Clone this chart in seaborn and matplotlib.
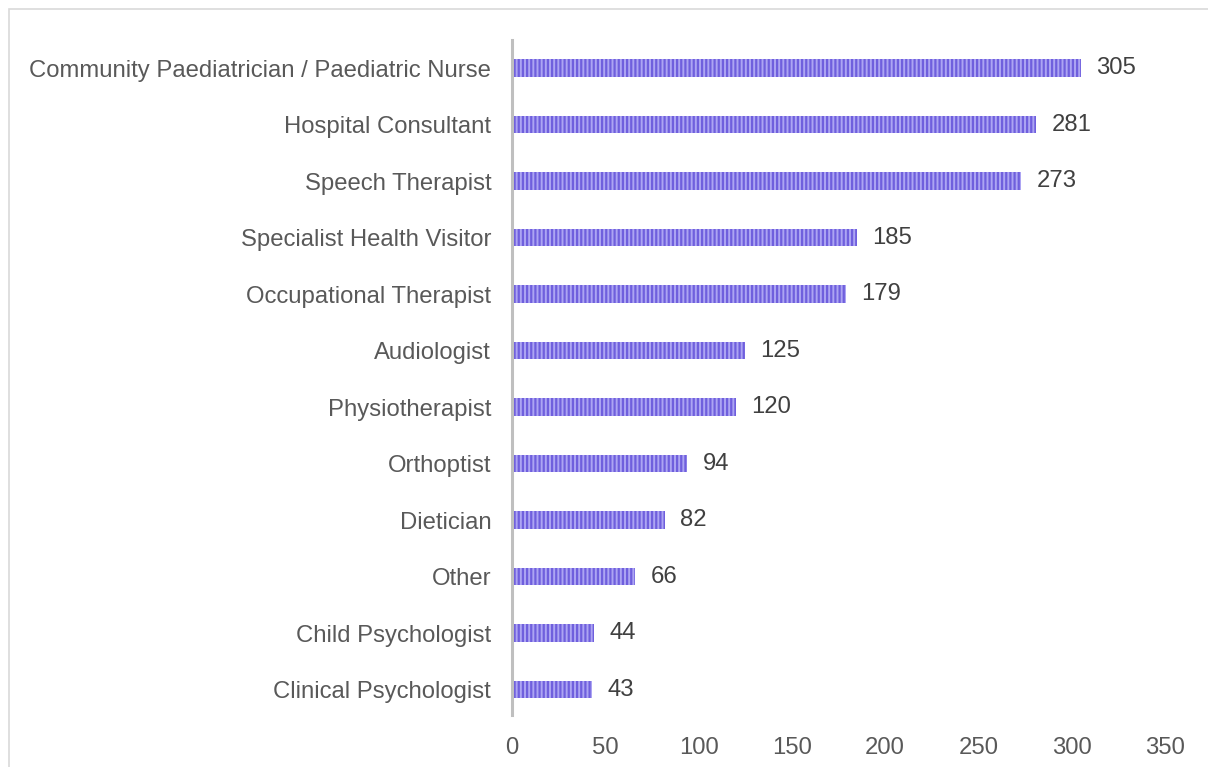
import pandas as pd
import seaborn as sns
import matplotlib.pyplot as plt
from matplotlib.patches import Rectangle

roles = ["Community Paediatrician / Paediatric Nurse", "Hospital Consultant",
         "Speech Therapist", "Specialist Health Visitor", "Occupational Therapist",
         "Audiologist", "Physiotherapist", "Orthoptist", "Dietician", "Other",
         "Child Psychologist", "Clinical Psychologist"]
counts = [305, 281, 273, 185, 179, 125, 120, 94, 82, 66, 44, 43]
x_ticks = [0, 50, 100, 150, 200, 250, 300, 350]

df = pd.DataFrame({"role": roles, "count": counts})

sns.set_style("white")
plt.rcParams["font.family"] = ["Liberation Sans", "DejaVu Sans"]
plt.rcParams["hatch.linewidth"] = 1.6

fig = plt.figure(figsize=(12.08, 7.67), dpi=100)
ax = fig.add_axes([512 / 1208, 1 - 715 / 767, (1165 - 512) / 1208, 675 / 767])

sns.barplot(data=df, y="role", x="count", orient="h", color="#ada5f3",
            width=0.31, saturation=1, ax=ax)
for p in ax.patches:
    p.set_hatch("||||")
    p.set_edgecolor("#6f5fdd")
    p.set_linewidth(0)

ax.bar_label(ax.containers[0], padding=11, fontsize=17.2, color="#404040")

ax.set_xlim(0, 350)
ax.set_ylim(11.45, -0.5)
ax.set_xticks(x_ticks)
ax.set_xlabel("")
ax.set_ylabel("")
ax.tick_params(axis="both", length=0, labelsize=17.2, labelcolor="#595959")
ax.tick_params(axis="y", pad=15)
ax.tick_params(axis="x", pad=16)
for s in ["top", "right", "bottom"]:
    ax.spines[s].set_visible(False)
ax.spines["left"].set_color("#bfbfbf")
ax.spines["left"].set_linewidth(2.2)

fig.patches.append(Rectangle((9 / 1208, -0.1), 1.2, 1.1 - 9 / 767, transform=fig.transFigure,
                             fill=False, edgecolor="#d9d9d9", linewidth=1.2))

plt.savefig("out.png", dpi=100)
